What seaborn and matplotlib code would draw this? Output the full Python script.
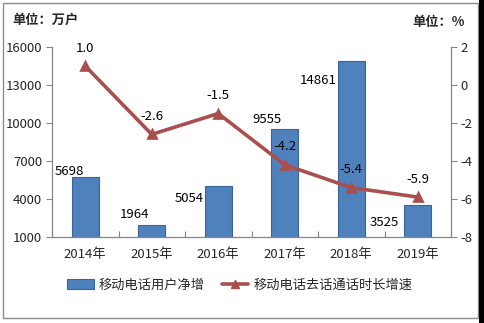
import matplotlib
matplotlib.use("Agg")
import matplotlib.pyplot as plt
from matplotlib.patches import Rectangle, Patch
from matplotlib.lines import Line2D
import seaborn as sns
import pandas as pd
import numpy as np

years = ["2014年", "2015年", "2016年", "2017年", "2018年", "2019年"]
net_users = [5698, 1964, 5054, 9555, 14861, 3525]          # 万户
call_growth = [1.0, -2.6, -1.5, -4.2, -5.4, -5.9]         # %

bar_name = "移动电话用户净增"
line_name = "移动电话去话通话时长增速"

# label offsets (pixels) for the bar value labels
bar_label_offsets = [(-16, 6), (-17, 10), (-29, -13), (-18, 9), (-33, -19), (-33, -17)]

sns.set_theme(style="white")
plt.rcParams["font.family"] = ["Noto Sans CJK SC", "DejaVu Sans"]
plt.rcParams["axes.unicode_minus"] = False

bar_color = "#4F81BD"
bar_edge = "#3A6397"
line_color = "#A9504F"
spine_color = "#868686"
fs = 9.5

df = pd.DataFrame({"year": years, "users": net_users, "growth": call_growth})

fig = plt.figure(figsize=(4.84, 3.23), dpi=100)
fig.patch.set_facecolor("white")
W, H = 484, 323
ax = fig.add_axes([52 / W, 1 - 237 / H, (451 - 52) / W, (237 - 47) / H])

sns.barplot(data=df, x="year", y="users", ax=ax, color=bar_color, width=0.4,
            edgecolor=bar_edge, linewidth=0.8, saturation=1)
ax.set_xlim(-0.5, 5.5)
ax.set_ylim(1000, 16000)
ax.set_yticks([1000, 4000, 7000, 10000, 13000, 16000])
ax.set_xlabel("")
ax.set_ylabel("")

ax2 = ax.twinx()
sns.pointplot(data=df, x="year", y="growth", ax=ax2, color=line_color,
              markers="^", linestyles="-", markersize=6, linewidth=2.6)
ax2.set_xlim(-0.5, 5.5)
ax2.set_ylim(-8, 2)
ax2.set_yticks([-8, -6, -4, -2, 0, 2])
ax2.set_ylabel("")

for a in (ax, ax2):
    for s in ("top",):
        a.spines[s].set_visible(False)
    for s in ("left", "right", "bottom"):
        a.spines[s].set_color(spine_color)
        a.spines[s].set_linewidth(0.9)
ax.spines["right"].set_visible(False)
ax2.spines["left"].set_visible(False)
ax2.spines["bottom"].set_visible(False)

ax.tick_params(axis="y", direction="out", length=4, width=0.8, color=spine_color,
               labelsize=fs, pad=3, left=True)
ax2.tick_params(axis="y", direction="out", length=4, width=0.8, color=spine_color,
                labelsize=fs, pad=3, right=True)
ax.tick_params(axis="x", length=0, labelsize=fs, pad=8)
ax.set_xticks(np.arange(-0.5, 6.0, 1.0), minor=True)
ax.tick_params(axis="x", which="minor", direction="in", length=4, width=0.8,
               color=spine_color, bottom=True)

# value labels on bars
for i, (v, off) in enumerate(zip(net_users, bar_label_offsets)):
    ax.annotate(f"{v}", xy=(i, v), xytext=off, textcoords="offset pixels",
                ha="center", va="center", fontsize=fs, color="black")

# value labels on line
for i, v in enumerate(call_growth):
    ax2.annotate(f"{v:.1f}", xy=(i, v), xytext=(0, 18), textcoords="offset pixels",
                 ha="center", va="center", fontsize=fs, color="black")

# unit captions
fig.text(12 / W, 1 - 20 / H, "单位：万户", fontsize=fs, fontweight="bold",
         ha="left", va="center")
fig.text(465 / W, 1 - 22 / H, "单位：%", fontsize=fs, fontweight="bold",
         ha="right", va="center")

handles = [Patch(facecolor=bar_color, edgecolor=bar_edge, linewidth=0.8),
           Line2D([0], [0], color=line_color, lw=2.6, marker="^", markersize=6)]
fig.legend(handles, [bar_name, line_name], loc="center", ncol=2, frameon=False,
           bbox_to_anchor=(240 / W, 1 - 285 / H), fontsize=fs, handlelength=2.0,
           handleheight=0.8, handletextpad=0.4, columnspacing=1.3)

# outer frame and right edge strip
fig.patches.append(Rectangle((3 / W, 5 / H), (478 - 3) / W, (320 - 5) / H,
                             transform=fig.transFigure, fill=False,
                             edgecolor="#8C8C8C", linewidth=1.0))
fig.patches.append(Rectangle((479 / W, 0), 5 / W, 1, transform=fig.transFigure,
                             facecolor="black", edgecolor="none"))

fig.savefig("out.png", dpi=100, facecolor="white")
